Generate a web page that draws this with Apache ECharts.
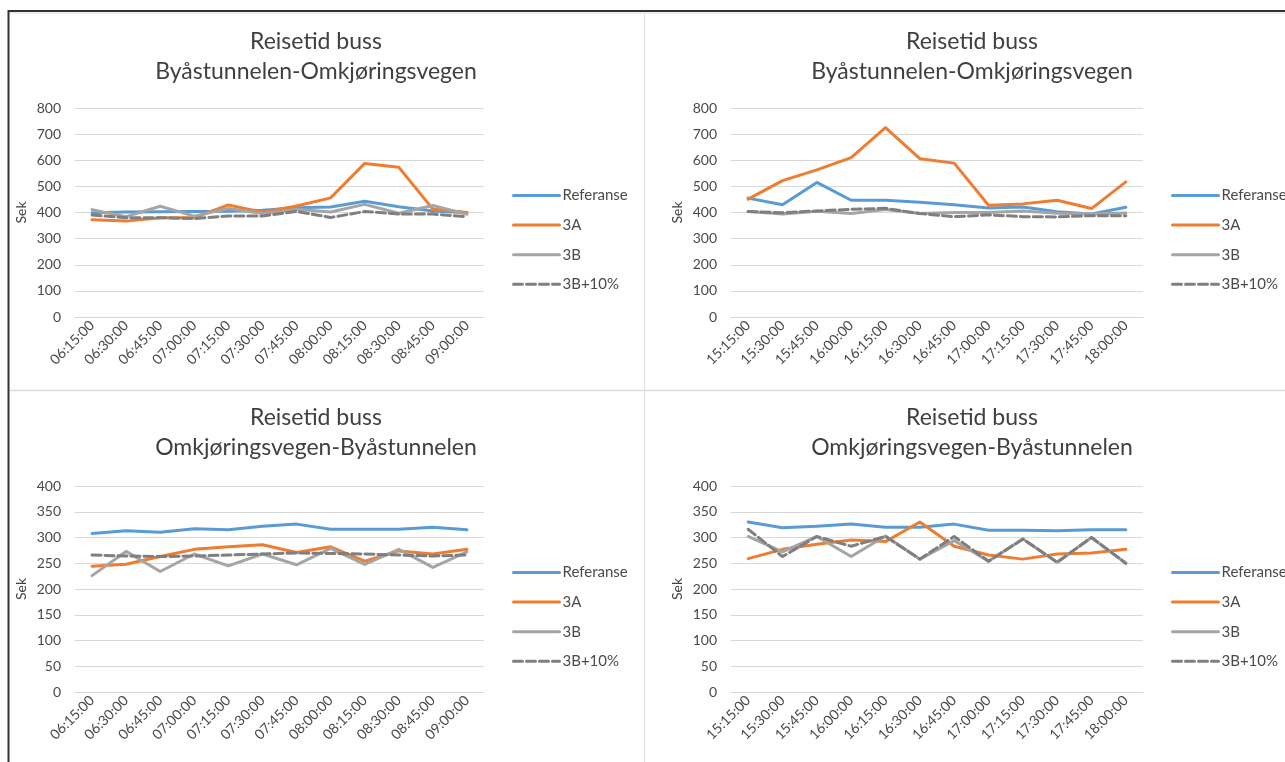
<!DOCTYPE html>
<html>
<head>
<meta charset="utf-8">
<script src="https://cdn.jsdelivr.net/npm/echarts@6/dist/echarts.min.js"></script>
<style>
  html, body { margin: 0; padding: 0; background: #fff; }
  #chart { width: 1285px; height: 762px; }
</style>
</head>
<body>
<div id="chart"></div>
<script>
// Time slots (x axis)
const morningTimes = ['06:15:00','06:30:00','06:45:00','07:00:00','07:15:00','07:30:00','07:45:00','08:00:00','08:15:00','08:30:00','08:45:00','09:00:00'];
const afternoonTimes = ['15:15:00','15:30:00','15:45:00','16:00:00','16:15:00','16:30:00','16:45:00','17:00:00','17:15:00','17:30:00','17:45:00','18:00:00'];

const seriesNames = ['Referanse', '3A', '3B', '3B+10%'];

// Byåstunnelen-Omkjøringsvegen, morning (sek)
const amOutRef  = [399, 402, 403, 404, 405, 409, 418, 421, 443, 422, 406, 399];
const amOut3A   = [372, 367, 380, 380, 429, 401, 425, 456, 588, 573, 413, 400];
const amOut3B   = [411, 384, 424, 386, 415, 396, 412, 402, 431, 397, 427, 393];
const amOut3B10 = [390, 380, 380, 377, 387, 387, 404, 381, 404, 394, 394, 384];

// Byåstunnelen-Omkjøringsvegen, afternoon (sek)
const pmOutRef  = [455, 430, 515, 447, 447, 439, 430, 417, 421, 403, 394, 420];
const pmOut3A   = [451, 522, 563, 610, 725, 606, 589, 428, 433, 447, 415, 517];
const pmOut3B   = [404, 394, 405, 396, 411, 396, 400, 400, 406, 397, 394, 398];
const pmOut3B10 = [404, 399, 406, 412, 416, 396, 384, 391, 384, 383, 388, 388];

// Omkjøringsvegen-Byåstunnelen, morning (sek)
const amBackRef  = [308, 313, 310, 317, 315, 322, 326, 316, 316, 316, 320, 315];
const amBack3A   = [244, 248, 263, 277, 282, 286, 271, 282, 254, 274, 268, 277];
const amBack3B   = [226, 273, 234, 268, 245, 268, 247, 279, 248, 277, 242, 272];
const amBack3B10 = [266, 264, 263, 264, 266, 268, 270, 269, 268, 266, 264, 266];

// Omkjøringsvegen-Byåstunnelen, afternoon (sek)
const pmBackRef  = [330, 319, 322, 326, 320, 320, 326, 314, 314, 313, 315, 315];
const pmBack3A   = [259, 277, 287, 295, 292, 330, 283, 266, 258, 268, 270, 277];
const pmBack3B   = [302, 272, 302, 263, 303, 258, 294, 254, 297, 252, 300, 250];
const pmBack3B10 = [316, 263, 302, 283, 302, 258, 302, 254, 297, 252, 300, 250];

const titleLine1 = 'Reisetid buss';
const routeOut = 'Byåstunnelen-Omkjøringsvegen';
const routeBack = 'Omkjøringsvegen-Byåstunnelen';

const FONT = 'Lato, "Open Sans", sans-serif';
const TEXT = '#404040';
const LABEL = '#4a4a4a';
const GRID = '#d9d9d9';
const colors = ['#5b9bd5', '#ed7d31', '#a5a5a5', '#7f7f7f'];

// Panel layout: plot rect, title centre, legend anchor
const panels = [
  { times: morningTimes,   data: [amOutRef, amOut3A, amOut3B, amOut3B10],     route: routeOut,  max: 800, step: 100,
    grid: { left: 75,  top: 108, width: 409, height: 209 }, cx: 316, ty: 27,  lx: 512,  ly: 188 },
  { times: afternoonTimes, data: [pmOutRef, pmOut3A, pmOut3B, pmOut3B10],     route: routeOut,  max: 800, step: 100,
    grid: { left: 731, top: 108, width: 412, height: 209 }, cx: 972, ty: 27,  lx: 1171, ly: 188 },
  { times: morningTimes,   data: [amBackRef, amBack3A, amBack3B, amBack3B10], route: routeBack, max: 400, step: 50,
    grid: { left: 75,  top: 486, width: 409, height: 206 }, cx: 316, ty: 403, lx: 512,  ly: 565 },
  { times: afternoonTimes, data: [pmBackRef, pmBack3A, pmBack3B, pmBack3B10], route: routeBack, max: 400, step: 50,
    grid: { left: 731, top: 486, width: 412, height: 206 }, cx: 972, ty: 403, lx: 1171, ly: 565 }
];

const option = {
  animation: false,
  backgroundColor: '#ffffff',
  textStyle: { fontFamily: FONT },
  title: panels.map(p => ({
    text: titleLine1 + '\n' + p.route,
    left: p.cx, top: p.ty, textAlign: 'center', padding: 0,
    textStyle: { fontFamily: FONT, fontSize: 23, fontWeight: 'normal', color: TEXT, lineHeight: 30 }
  })),
  legend: panels.map(p => ({
    data: seriesNames,
    orient: 'vertical',
    left: p.lx, top: p.ly, padding: 0,
    itemWidth: 46, itemHeight: 14, itemGap: 14.6,
    itemStyle: { opacity: 0 },
    lineStyle: { width: 3 },
    textStyle: { fontFamily: FONT, fontSize: 15, color: LABEL, padding: [0, 0, 0, -2] },
    selectedMode: false
  })),
  grid: panels.map(p => Object.assign({ containLabel: false }, p.grid)),
  xAxis: panels.map((p, i) => ({
    type: 'category', gridIndex: i, data: p.times, boundaryGap: true,
    axisTick: { show: false },
    axisLine: { show: true, lineStyle: { color: GRID, width: 1 } },
    axisLabel: { rotate: 45, fontFamily: FONT, fontSize: 14, color: LABEL, margin: 6, interval: 0 }
  })),
  yAxis: panels.map((p, i) => ({
    type: 'value', gridIndex: i, min: 0, max: p.max, interval: p.step,
    name: 'Sek', nameLocation: 'middle', nameGap: 47,
    nameTextStyle: { fontFamily: FONT, fontSize: 14, color: TEXT },
    axisLine: { show: false }, axisTick: { show: false },
    axisLabel: { fontFamily: FONT, fontSize: 14, color: LABEL, margin: 14 },
    splitLine: { lineStyle: { color: GRID, width: 1 } }
  })),
  series: panels.flatMap((p, i) => seriesNames.map((name, k) => ({
    name, type: 'line', xAxisIndex: i, yAxisIndex: i,
    data: p.data[k], symbol: 'none', smooth: false,
    color: colors[k],
    lineStyle: { color: colors[k], width: 3, type: k === 3 ? [9, 4] : 'solid', cap: 'round', join: 'round' },
    z: 2 + k
  }))),
  graphic: [
    // panel separators
    { type: 'line', shape: { x1: 644.5, y1: 13, x2: 644.5, y2: 762 }, style: { stroke: '#dcdcdc', lineWidth: 1 }, silent: true },
    { type: 'line', shape: { x1: 9, y1: 390.5, x2: 1285, y2: 390.5 }, style: { stroke: '#dcdcdc', lineWidth: 1.5 }, silent: true },
    // sheet edge
    { type: 'rect', shape: { x: 9, y: 12, width: 1276, height: 2 }, style: { fill: '#ececec' }, silent: true },
    { type: 'line', shape: { x1: 8, y1: 11, x2: 1285, y2: 11 }, style: { stroke: '#333333', lineWidth: 2 }, silent: true },
    { type: 'line', shape: { x1: 8.5, y1: 10, x2: 8.5, y2: 762 }, style: { stroke: '#333333', lineWidth: 2 }, silent: true }
  ]
};

const chart = echarts.init(document.getElementById('chart'), null, { renderer: 'canvas' });
chart.setOption(option);
</script>
</body>
</html>
